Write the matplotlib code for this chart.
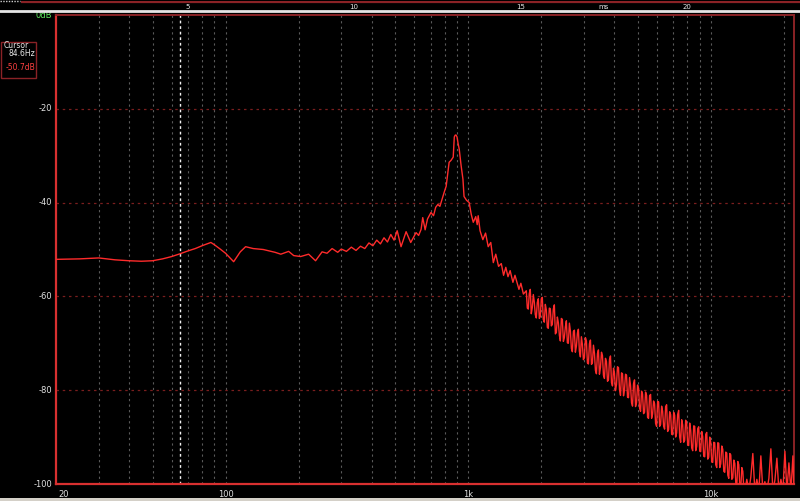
import matplotlib
matplotlib.use("Agg")
import matplotlib.pyplot as plt
from matplotlib.lines import Line2D
from matplotlib.patches import Rectangle

# ---------------- data ----------------
freq_low = [20, 25, 30, 35, 40, 45, 50, 55, 60, 65, 70, 75, 80, 87, 90, 95, 100, 108, 115, 121,
            130, 143, 160, 169, 182, 191, 204]
db_low = [-52.1, -52.0, -51.8, -52.2, -52.4, -52.5, -52.4, -52.0, -51.5, -50.9, -50.3, -49.8, -49.2,
          -48.5, -49.0, -49.9, -50.8, -52.6, -50.5, -49.4, -49.8, -50.0, -50.6, -51.0, -50.4, -51.3, -51.5]

freq_mid = [220, 235, 250, 262, 275, 290, 300, 315, 330, 345, 360, 375, 390, 405, 420, 435, 450, 465,
            480, 495, 510, 529]
db_mid = [-51.0, -52.4, -50.5, -50.8, -49.8, -50.6, -49.9, -50.4, -49.5, -50.2, -49.3, -49.8, -48.6,
          -49.2, -48.0, -48.8, -47.5, -48.4, -46.8, -48.0, -46.0, -49.4]

freq_peak = [555, 580, 610, 625, 640, 650, 665, 680, 703, 720, 735, 750, 765, 787, 800, 812, 825, 835,
             850, 868, 877, 885, 892, 900, 910, 919, 935, 952, 962, 985, 1010, 1030, 1050, 1075, 1090,
             1100, 1120, 1150, 1180, 1210, 1240, 1270, 1300, 1335, 1370, 1400, 1430, 1460, 1490, 1530,
             1560, 1620, 1650, 1690]
db_peak = [-46.2, -48.5, -46.4, -47.0, -45.7, -43.2, -45.8, -43.5, -42.1, -42.8, -41.0, -40.4, -40.8,
           -38.7, -37.5, -36.5, -33.5, -31.4, -31.0, -30.3, -26.0, -25.6, -25.6, -26.0, -27.5, -28.6,
           -32.0, -35.0, -38.7, -39.5, -40.0, -42.5, -44.2, -43.0, -44.7, -42.8, -46.0, -47.9, -46.5,
           -49.4, -48.5, -52.8, -51.0, -53.6, -53.0, -55.5, -53.8, -55.8, -54.5, -57.0, -55.5, -58.5,
           -57.2, -59.5]

freq_high = [1737, 1770, 1804, 1839, 1874, 1910, 1947, 1984, 2022, 2061,
             2101, 2141, 2182, 2224, 2267, 2311, 2355, 2400, 2446, 2493,
             2541, 2590, 2640, 2690, 2742, 2795, 2848, 2903, 2959, 3016,
             3074, 3133, 3193, 3254, 3317, 3380, 3445, 3512, 3579, 3648,
             3718, 3790, 3862, 3937, 4012, 4089, 4168, 4248, 4330, 4413,
             4498, 4584, 4672, 4762, 4853, 4947, 5042, 5139, 5237, 5338,
             5441, 5545, 5652, 5760, 5871, 5984, 6099, 6216, 6336, 6457,
             6581, 6708, 6837, 6968, 7102, 7238, 7377, 7519, 7664, 7811,
             7961, 8114, 8270, 8429, 8591, 8756, 8924, 9095, 9270, 9448,
             9630, 9815, 10003, 10195, 10391, 10591, 10794, 11002, 11213, 11429,
             11648, 11872, 12100, 12333, 12570, 12811, 13057, 13308, 13564, 13824,
             14090, 14360, 14636, 14917, 15204, 15496, 15794, 16097, 16407, 16722,
             17043, 17371, 17704, 18045, 18391, 18745, 19105, 19472, 19846, 20227,
             20616, 21012, 21416, 21827, 22050]
db_high = [-58.8, -62.7, -58.5, -62.4, -61.2, -64.6, -60.5, -64.3, -60.2, -65.5,
           -62.9, -66.8, -62.6, -66.0, -61.8, -67.7, -65.6, -69.5, -64.9, -68.8,
           -65.2, -70.0, -67.4, -71.8, -67.2, -70.6, -67.0, -72.9, -70.3, -73.1,
           -69.5, -74.4, -69.3, -74.2, -72.1, -76.5, -71.4, -75.2, -72.6, -77.5,
           -73.9, -77.8, -72.7, -79.1, -76.4, -78.8, -75.2, -81.1, -76.5, -79.9,
           -76.8, -81.6, -79.0, -83.4, -77.8, -82.7, -79.6, -84.5, -80.8, -84.7,
           -81.1, -86.0, -80.9, -85.1, -82.9, -87.7, -82.5, -87.3, -84.5, -88.3,
           -83.1, -88.4, -85.2, -89.5, -85.3, -89.1, -84.3, -91.1, -87.4, -90.7,
           -87.0, -91.8, -88.6, -92.9, -87.7, -92.0, -87.8, -93.1, -89.9, -94.2,
           -89.0, -94.3, -91.1, -95.4, -91.2, -96.5, -91.3, -95.7, -92.6, -97.5,
           -93.4, -98.8, -93.8, -98.7, -95.6, -100.5, -95.9, -100.8, -97.3, -101.5,
           -99.0, -101.5, -98.5, -93.5, -101.5, -99.0, -101.5, -94.0, -101.5, -99.5,
           -101.5, -98.8, -92.5, -101.5, -99.2, -94.5, -101.5, -99.0, -101.5, -93.0,
           -101.5, -95.5, -101.5, -94.0, -101.0]

# additional bins read between the ones above (dense noisy band)
freq_high_b = [1754, 1787, 1821, 1857, 1892, 1928, 1966, 2003, 2041, 2081,
               2121, 2161, 2203, 2245, 2289, 2333, 2378, 2423, 2470, 2517,
               2565, 2615, 2665, 2716, 2768, 2822, 2875, 2931, 2987, 3045,
               3103, 3163, 3224, 3286, 3349, 3413, 3478, 3546, 3613, 3683,
               3754, 3826, 3899, 3975, 4050, 4128, 4208, 4289, 4371, 4455,
               4541, 4628, 4717, 4807, 4899, 4994, 5090, 5188, 5287, 5389,
               5493, 5598, 5706, 5815, 5927, 6041, 6157, 6276, 6396, 6519,
               6644, 6772, 6902, 7035, 7170, 7307, 7448, 7591, 7737, 7886,
               8037, 8192, 8349, 8510, 8673, 8840, 9009, 9182, 9359, 9539,
               9722, 9909, 10099, 10293, 10491, 10692, 10898, 11107, 11321, 11538,
               11760, 11986, 12216, 12451, 12690, 12934, 13182, 13436, 13694]
db_high_b = [-62.5, -59.4, -63.7, -59.6, -63.9, -61.3, -64.7, -60.5, -64.9, -61.7,
             -66.6, -62.5, -66.3, -62.7, -68.0, -64.4, -68.3, -64.7, -69.6, -66.5,
             -69.9, -65.7, -71.1, -67.5, -71.9, -67.8, -71.7, -68.6, -73.5, -68.8,
             -74.2, -70.1, -74.5, -70.4, -75.8, -72.2, -76.6, -71.9, -76.8, -73.2,
             -78.1, -73.5, -78.4, -75.3, -80.1, -75.0, -79.9, -76.3, -81.2, -76.6,
             -81.5, -77.3, -82.7, -78.6, -83.5, -78.9, -83.8, -80.2, -85.0, -80.4,
             -85.8, -81.2, -86.0, -82.3, -87.1, -82.4, -87.7, -83.4, -87.7, -83.5,
             -88.8, -84.6, -89.4, -84.7, -90.0, -85.2, -90.0, -86.3, -91.1, -86.4,
             -91.7, -87.0, -92.3, -87.6, -92.9, -88.2, -93.0, -88.8, -94.1, -89.4,
             -94.7, -90.0, -95.3, -91.1, -95.9, -91.2, -96.5, -91.9, -97.3, -93.2,
             -98.1, -93.5, -99.0, -94.9, -99.8, -95.2, -100.6, -96.5, -101.1]

pairs = sorted(zip(freq_low + freq_mid + freq_peak + freq_high + freq_high_b,
                   db_low + db_mid + db_peak + db_high + db_high_b))
freq_hz = [p[0] for p in pairs]
level_db = [p[1] for p in pairs]

grid_freqs = [30, 40, 50, 60, 70, 80, 90, 100, 200, 300, 400, 500, 600, 700, 800, 900,
              1000, 2000, 3000, 4000, 5000, 6000, 7000, 8000, 9000, 10000, 20000]
x_tick_vals = [20, 100, 1000, 10000]
x_tick_labels = ["20", "100", "1k", "10k"]
y_tick_vals = [0, -20, -40, -60, -80, -100]
y_tick_labels = ["0dB", "-20", "-40", "-60", "-80", "-100"]
time_ticks = [5, 10, 15, 20]
cursor_freq = 64.8
cursor_lines = ["Cursor", "84.6Hz", "-50.7dB"]

# ---------------- figure ----------------
W, H = 800, 501
fig = plt.figure(figsize=(W / 100, H / 100), dpi=100, facecolor="black")

def fx(px):
    return px / W

def fy(py):
    return 1 - py / H

L, R, T, B = 56, 794, 15, 484
ax = fig.add_axes([fx(L), fy(B), fx(R - L), (B - T) / H])
ax.set_facecolor("black")
ax.set_xscale("log")
ax.set_xlim(20, 22050)
ax.set_ylim(-100, 0)

for g in grid_freqs:
    ax.axvline(g, color="#5a5a5a", lw=0.8, dashes=(2, 3), zorder=1)
for yv in [-20, -40, -60, -80]:
    ax.axhline(yv, color="#7a1e1e", lw=0.9, dashes=(2, 3), zorder=1)

ax.axvline(cursor_freq, color="#f0f0f0", lw=1.0, dashes=(2, 2), zorder=2)

ax.plot(freq_hz, level_db, color="#ff2b2b", lw=1.0, zorder=3)

ax.set_xticks([])
ax.set_yticks([])
ax.minorticks_off()
for side in ["left", "bottom"]:
    ax.spines[side].set_color("#d83030")
    ax.spines[side].set_linewidth(1.6)
for side in ["top", "right"]:
    ax.spines[side].set_color("#8a2226")
    ax.spines[side].set_linewidth(1.4)

ytr = ax.get_yaxis_transform()
for v, lab in zip(y_tick_vals, y_tick_labels):
    col = "#5fe85f" if lab == "0dB" else "#e0e0e0"
    ax.text(-0.005, v, lab, transform=ytr, ha="right", va="center", fontsize=6,
            color=col, clip_on=False)

xtr = ax.get_xaxis_transform()
for v, lab in zip(x_tick_vals, x_tick_labels):
    ha = "left" if v == 20 else "center"
    ax.text(v * (1.02 if v == 20 else 1.0), -0.012, lab, transform=xtr, ha=ha, va="top",
            fontsize=6, color="#e0e0e0", clip_on=False)

# top time strip
tax = fig.add_axes([fx(21), fy(10), fx(800 - 21), 9 / H])
tax.set_facecolor("black")
tax.set_xlim(0, (800 - 21) / 33.3)
tax.set_ylim(0, 1)
tax.set_xticks([])
tax.set_yticks([])
for s in tax.spines.values():
    s.set_visible(False)
tax.axhline(0.9, color="#8a2226", lw=1.6)
for t in time_ticks:
    tax.text(t, 0.35, str(t), ha="center", va="center", fontsize=5, color="#e8e8e8")
tax.text(17.5, 0.35, "ms", ha="center", va="center", fontsize=5, color="#e8e8e8")

fig.add_artist(Line2D([0, 1], [fy(11), fy(11)], transform=fig.transFigure,
                      color="#e6e6e6", lw=2.0))
fig.add_artist(Line2D([0, fx(20)], [fy(0.5), fy(0.5)], transform=fig.transFigure,
                      color="#cfcfcf", lw=1.0, dashes=(1, 1)))

fig.add_artist(Rectangle((fx(1), fy(78)), fx(35), (78 - 42) / H, transform=fig.transFigure,
                         facecolor="black", edgecolor="#8a2226", lw=1.0))
fig.text(fx(4), fy(45), cursor_lines[0], fontsize=5.5, color="#e8e8e8", va="center", ha="left")
fig.text(fx(35), fy(53), cursor_lines[1], fontsize=5.5, color="#e8e8e8", va="center", ha="right")
fig.text(fx(35), fy(67), cursor_lines[2], fontsize=5.5, color="#ff4040", va="center", ha="right")

fig.add_artist(Rectangle((0, 0), 1, 3.5 / H, transform=fig.transFigure,
                         facecolor="#d4d0c8", edgecolor="none"))

fig.savefig("out.png", dpi=100, facecolor="black")
